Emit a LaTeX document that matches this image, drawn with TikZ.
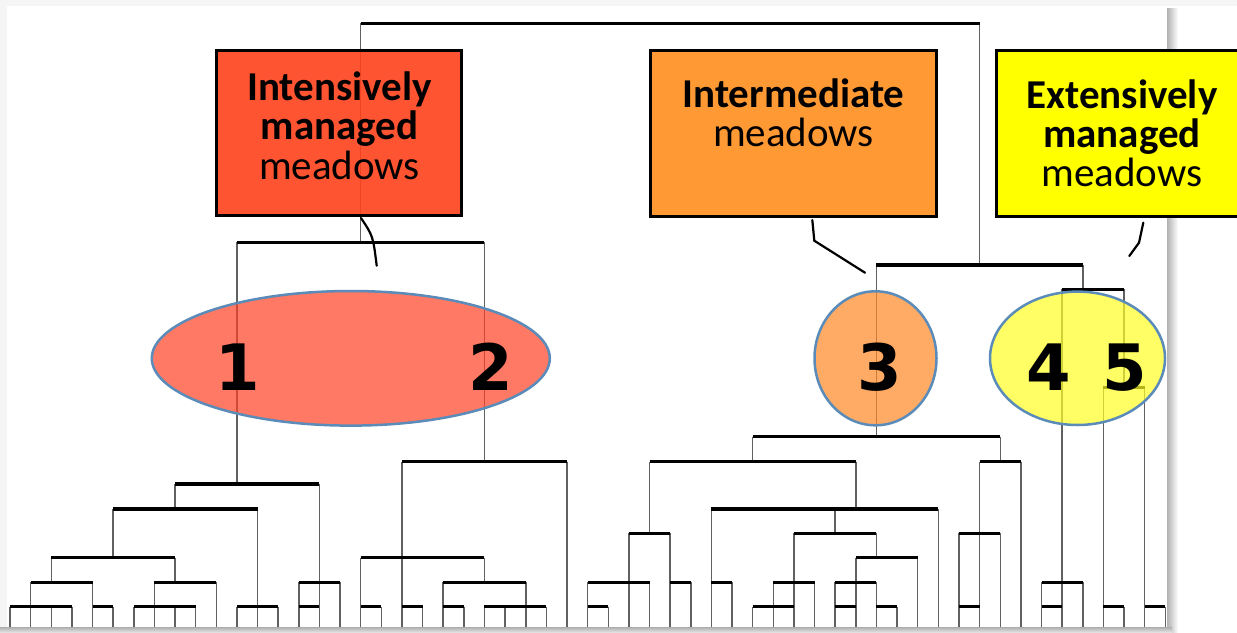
\documentclass[tikz,border=0pt]{standalone}
\usepackage{fontspec}
\setmainfont{Carlito}
\newfontfamily\digitfont{DejaVu Sans}
\usetikzlibrary{shapes.geometric}
\definecolor{boxred}{RGB}{255,66,28}
\definecolor{boxorange}{HTML}{FF9933}
\definecolor{boxyellow}{HTML}{FFFF00}
\definecolor{ellred}{RGB}{255,65,36}
\definecolor{ellorange}{RGB}{255,136,36}
\definecolor{ellyellow}{RGB}{255,255,36}
\definecolor{ellborder}{HTML}{5B8BB8}
\newcommand\Vl[3]{\draw[vl] ({10+20.63*(#1)},#2) -- ({10+20.63*(#1)},#3);}
\newcommand\Hl[3]{\draw[hl] ({10+20.63*(#2)},#1) -- ({10+20.63*(#3)},#1);}
\begin{document}
\begin{tikzpicture}[x=1pt,y=-1pt,
  vl/.style={line width=1.5pt, draw=black!62},
  hl/.style={line width=3.2pt, draw=black},
  boxst/.style={rectangle, draw=black, line width=3pt, inner sep=0pt},
  ellst/.style={ellipse, draw=ellborder, line width=2.5pt, fill opacity=0.7, inner sep=0pt},
  txt/.style={anchor=base, inner sep=0pt, font=\fontsize{41}{41}\selectfont},
  num/.style={anchor=base, inner sep=0pt, font=\digitfont\bfseries\fontsize{64}{64}\selectfont},
  callout/.style={line width=2.2pt, draw=black, line cap=round}]
\useasboundingbox (0,0) rectangle (1237,632);
\clip (0,0) rectangle (1237,632);
\fill[white] (0,0) rectangle (1237,632);
% frame shadow
\fill[black!4] (0,0) rectangle (1237,6);
\fill[black!4] (0,0) rectangle (7,632);
\shade[left color=black!30, right color=white] (1167,8) rectangle (1178,632);
\shade[top color=black!30, bottom color=black!12] (0,627.5) rectangle (1172,632);
% ---------------- dendrogram ----------------
% top
\Vl{17}{23.3}{242.3}
\Vl{47}{23.3}{265}
% cluster 1
\Vl{11}{242.3}{484}
\Vl{23}{242.3}{461.7}
\Vl{8}{484}{509}
\Vl{12}{509}{627}
\Vl{11}{606.7}{627}
\Vl{13}{606.7}{627}
\Vl{5}{509}{557.7}
\Vl{2}{557.7}{582.3}
\Vl{1}{582.3}{627}
\Vl{0}{606.7}{627}\Vl{2}{606.7}{627}\Vl{3}{606.7}{627}
\Vl{4}{582.3}{627}
\Vl{5}{606.7}{627}
\Vl{8}{557.7}{582.3}
\Vl{7}{582.3}{627}
\Vl{6}{606.7}{627}\Vl{8}{606.7}{627}\Vl{9}{606.7}{627}
\Vl{10}{582.3}{627}
\Vl{15}{484}{627}
\Vl{14}{582.3}{627}
\Vl{16}{582.3}{627}
\Vl{27}{461.7}{627}
\Vl{19}{461.7}{627}
\Vl{20}{606.7}{627}
\Vl{17}{557.7}{627}
\Vl{18}{606.7}{627}
\Vl{23}{557.7}{582.3}
\Vl{21}{582.3}{627}
\Vl{22}{606.7}{627}
\Vl{25}{582.3}{627}
\Vl{23}{606.7}{627}\Vl{24}{606.7}{627}\Vl{26}{606.7}{627}
% cluster 3
\Vl{42}{265}{436.7}
\Vl{36}{436.7}{461.7}
\Vl{41}{461.7}{509}
\Vl{31}{461.7}{533.3}
\Vl{30}{533.3}{627}
\Vl{28}{582.3}{627}
\Vl{29}{606.7}{627}
\Vl{31}{582.3}{627}
\Vl{32}{533.3}{627}
\Vl{33}{582.3}{627}
\Vl{34}{509}{627}
\Vl{35}{582.3}{627}
\Vl{40}{509}{533.3}
\Vl{38}{533.3}{627}
\Vl{37}{582.3}{627}
\Vl{36}{606.7}{627}
\Vl{39}{582.3}{627}
\Vl{42}{533.3}{557.7}
\Vl{41}{557.7}{627}
\Vl{40}{582.3}{627}
\Vl{42}{582.3}{627}
\Vl{43}{606.7}{627}
\Vl{44}{557.7}{627}
\Vl{45}{509}{627}
\Vl{48}{436.7}{461.7}
\Vl{47}{461.7}{627}
\Vl{46}{533.3}{627}
\Vl{48}{533.3}{627}
\Vl{49}{461.7}{627}
% cluster 4-5
\Vl{52}{265}{289.3}
\Vl{51}{289.3}{627}
\Vl{50}{582.3}{627}
\Vl{52}{582.3}{627}
\Vl{54}{289.3}{387.7}
\Vl{53}{387.7}{627}
\Vl{54}{606.7}{627}
\Vl{55}{387.7}{627}
\Vl{56}{606.7}{627}
% horizontal bars
\Hl{23.3}{17}{47}
\Hl{242.3}{11}{23}
\Hl{484}{8}{15}
\Hl{509}{5}{12}
\Hl{606.7}{11}{13}
\Hl{557.7}{2}{8}
\Hl{582.3}{1}{4}
\Hl{606.7}{0}{3}
\Hl{606.7}{4}{5}
\Hl{582.3}{7}{10}
\Hl{606.7}{6}{9}
\Hl{582.3}{14}{16}
\Hl{606.7}{14}{15}
\Hl{461.7}{19}{27}
\Hl{557.7}{17}{23}
\Hl{606.7}{19}{20}
\Hl{606.7}{17}{18}
\Hl{582.3}{21}{25}
\Hl{606.7}{21}{22}
\Hl{606.7}{23}{26}
\Hl{265}{42}{52}
\Hl{436.7}{36}{48}
\Hl{461.7}{31}{41}
\Hl{509}{34}{45}
\Hl{533.3}{30}{32}
\Hl{582.3}{28}{31}
\Hl{606.7}{28}{29}
\Hl{582.3}{32}{33}
\Hl{582.3}{34}{35}
\Hl{533.3}{38}{42}
\Hl{582.3}{37}{39}
\Hl{606.7}{36}{38}
\Hl{557.7}{41}{44}
\Hl{582.3}{40}{42}
\Hl{606.7}{40}{41}
\Hl{606.7}{42}{43}
\Hl{461.7}{47}{49}
\Hl{533.3}{46}{48}
\Hl{606.7}{46}{47}
\Hl{289.3}{51}{54}
\Hl{582.3}{50}{52}
\Hl{606.7}{50}{51}
\Hl{387.7}{53}{55}
\Hl{606.7}{53}{54}
\Hl{606.7}{55}{56}
% ---------------- boxes ----------------
\node[boxst, fill=boxred, fill opacity=0.9, text opacity=1, minimum width=244.3pt, minimum height=165pt] (bI) at (338.85,133.2) {};
\node[boxst, fill=boxorange, minimum width=286.7pt, minimum height=165.3pt] (bM) at (793.35,133.35) {};
\node[boxst, fill=boxyellow, minimum width=250.3pt, minimum height=166pt] (bE) at (1121.85,133) {};
\node[txt] (tI1) at (339.5,100) {\bfseries Intensively};
\node[txt] (tI2) at (339.5,139) {\bfseries managed};
\node[txt] (tI3) at (339.5,179.5) {meadows};
\node[txt] (tM1) at (793.5,107) {\bfseries Intermediate};
\node[txt] (tM2) at (793.5,146.5) {meadows};
\node[txt] (tE1) at (1122,108) {\bfseries Extensively};
\node[txt] (tE2) at (1122,147.5) {\bfseries managed};
\node[txt] (tE3) at (1122,186.5) {meadows};
% ---------------- ellipses ----------------
\node[ellst, fill=ellred, minimum width=398pt, minimum height=134.6pt] (e12) at (350.8,358.3) {};
\node[ellst, fill=ellorange, minimum width=122pt, minimum height=134pt] (e3) at (875.5,358.3) {};
\node[ellst, fill=ellyellow, minimum width=175pt, minimum height=133.4pt] (e45) at (1077.5,358.3) {};
\node[num] (n1) at (238,390) {1};
\node[num] (n2) at (490.5,390) {2};
\node[num] (n3) at (880,390) {3};
\node[num] (n4) at (1048.5,390) {4};
\node[num] (n5) at (1125,390) {5};
% ---------------- callouts ----------------
\coordinate (cI0) at (361,218);
\coordinate (cI1) at (376.7,265.7);
\draw[callout] (cI0) .. controls (373,236) .. (cI1);
\coordinate (cM0) at (812.3,220);
\coordinate (cM1) at (814.3,240.7);
\coordinate (cM2) at (865,272.7);
\draw[callout] (cM0) -- (cM1) -- (cM2);
\coordinate (cE0) at (1143.3,222.7);
\coordinate (cE1) at (1139,242.7);
\coordinate (cE2) at (1129.3,256);
\draw[callout] (cE0) -- (cE1) -- (cE2);
\end{tikzpicture}
\end{document}
